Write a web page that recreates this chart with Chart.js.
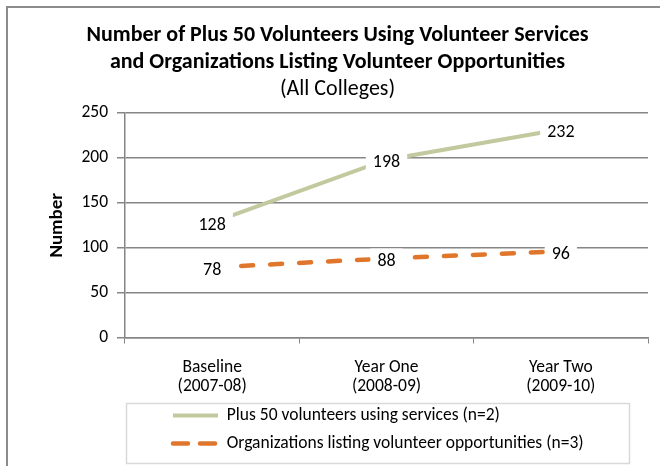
<!DOCTYPE html>
<html>
<head>
<meta charset="utf-8">
<script src="https://cdn.jsdelivr.net/npm/chart.js@4/dist/chart.umd.min.js"></script>
<style>
html,body{margin:0;padding:0;background:#fff;}
#wrap{width:660px;height:466px;position:relative;}
</style>
</head>
<body>
<div id="wrap"><canvas id="c" width="660" height="466"></canvas></div>
<script>
const categories = [["Baseline", "(2007-08)"], ["Year One", "(2008-09)"], ["Year Two", "(2009-10)"]];
const seriesNames = ["Plus 50 volunteers using services (n=2)", "Organizations listing volunteer opportunities (n=3)"];
const volunteers = [128, 198, 232];
const organizations = [78, 88, 96];
const yTicks = [0, 50, 100, 150, 200, 250];

const FONT = "Carlito, Lato, 'Liberation Sans', sans-serif";

const frame = {
  id: 'frame',
  beforeDraw(chart) {
    const ctx = chart.ctx;
    ctx.save();
    ctx.fillStyle = '#fff';
    ctx.fillRect(0, 0, chart.width, chart.height);
    ctx.strokeStyle = '#8c8c8c';
    ctx.lineWidth = 2;
    ctx.beginPath();
    ctx.moveTo(7, chart.height + 2);
    ctx.lineTo(7, 7);
    ctx.lineTo(chart.width + 2, 7);
    ctx.stroke();
    ctx.strokeStyle = '#d9d9d9';
    ctx.lineWidth = 1.5;
    ctx.strokeRect(126.5, 403.5, 503, 60);
    ctx.restore();
  }
};

const boxShift = {
  id: 'boxShift',
  afterLayout(chart) {
    chart.legend.left = 162.5;
    chart.boxes.forEach(b => {
      if (b !== chart.legend && b.position === 'top' && b.options && b.options.text !== undefined) {
        b.left = 15;
        b.right = 660;
      }
    });
  }
};

const dataLabels = {
  id: 'dataLabels',
  afterDatasetsDraw(chart) {
    const ctx = chart.ctx;
    ctx.save();
    ctx.font = "18px " + FONT;
    ctx.textAlign = 'center';
    ctx.textBaseline = 'middle';
    chart.data.datasets.forEach((ds, i) => {
      const meta = chart.getDatasetMeta(i);
      meta.data.forEach((pt, j) => {
        const txt = String(ds.data[j]);
        const w = ctx.measureText(txt).width + 14;
        const h = 24;
        const cx = pt.x, cy = pt.y + 2;
        ctx.fillStyle = '#fff';
        ctx.fillRect(cx - w / 2, cy - h / 2, w, h);
        ctx.fillStyle = '#000';
        ctx.fillText(txt, cx, cy + 1);
      });
    });
    ctx.restore();
  }
};

new Chart(document.getElementById('c'), {
  type: 'line',
  data: {
    labels: categories,
    datasets: [
      {
        label: seriesNames[0],
        data: volunteers,
        borderColor: '#c3c99e',
        backgroundColor: '#c3c99e',
        borderWidth: 4,
        pointRadius: 0,
        tension: 0,
        borderCapStyle: 'butt'
      },
      {
        label: seriesNames[1],
        data: organizations,
        borderColor: '#e0762b',
        backgroundColor: '#e0762b',
        borderWidth: 4.5,
        borderDash: [12, 17],
        borderCapStyle: 'round',
        pointRadius: 0,
        tension: 0
      }
    ]
  },
  options: {
    responsive: false,
    animation: false,
    devicePixelRatio: 1,
    layout: { padding: { left: 46, right: 12, top: 21.5, bottom: 3.75 } },
    plugins: {
      title: {
        display: true,
        text: ["Number of Plus 50 Volunteers Using Volunteer Services", "and Organizations Listing Volunteer Opportunities"],
        color: '#000',
        font: { family: FONT, size: 22, weight: 'bold', lineHeight: '27px' },
        padding: { top: 0, bottom: 0 }
      },
      subtitle: {
        display: true,
        text: "(All Colleges)",
        color: '#000',
        font: { family: FONT, size: 22, weight: 'normal', lineHeight: '27px' },
        padding: { top: 0, bottom: 10.5 }
      },
      legend: {
        display: true,
        position: 'bottom',
        align: 'start',
        labels: {
          color: '#000',
          font: { family: FONT, size: 17.5 },
          usePointStyle: true,
          pointStyle: 'line',
          boxWidth: 45,
          pointStyleWidth: 45,
          boxHeight: 17.5,
          padding: 10.5,
          generateLabels(chart) {
            const items = Chart.defaults.plugins.legend.labels.generateLabels(chart);
            return items.map(it => {
              const ds = chart.data.datasets[it.datasetIndex];
              it.strokeStyle = ds.borderColor;
              it.fillStyle = ds.borderColor;
              it.lineWidth = ds.borderWidth;
              it.lineCap = ds.borderCapStyle;
              it.lineDash = ds.borderDash ? [15, 12] : [];
              it.pointStyle = 'line';
              return it;
            });
          }
        }
      },
      tooltip: { enabled: false }
    },
    scales: {
      x: {
        offset: true,
        grid: { display: true, drawOnChartArea: false, offset: true, color: '#868686', tickLength: 6 },
        border: { display: true, color: '#868686', width: 1.5 },
        ticks: { color: '#000', font: { family: FONT, size: 17.5, lineHeight: 1.1 }, padding: 14.4, maxRotation: 0 },
        afterFit(scale) { scale.height = 58.75; }
      },
      y: {
        min: 0,
        max: 250,
        afterBuildTicks(scale) { scale.ticks = yTicks.map(v => ({ value: v })); },
        grid: { color: '#868686', lineWidth: 1.5, tickLength: 8 },
        border: { display: true, color: '#868686', width: 1.5 },
        ticks: { color: '#000', font: { family: FONT, size: 17.5 }, padding: 9 },
        title: { display: true, text: 'Number', color: '#000', font: { family: FONT, size: 19, weight: 'bold', lineHeight: 1.2 }, padding: { top: 0, bottom: 0 } },
        afterFit(scale) { scale.width = 79; }
      }
    }
  },
  plugins: [frame, boxShift, dataLabels]
});
</script>
</body>
</html>
